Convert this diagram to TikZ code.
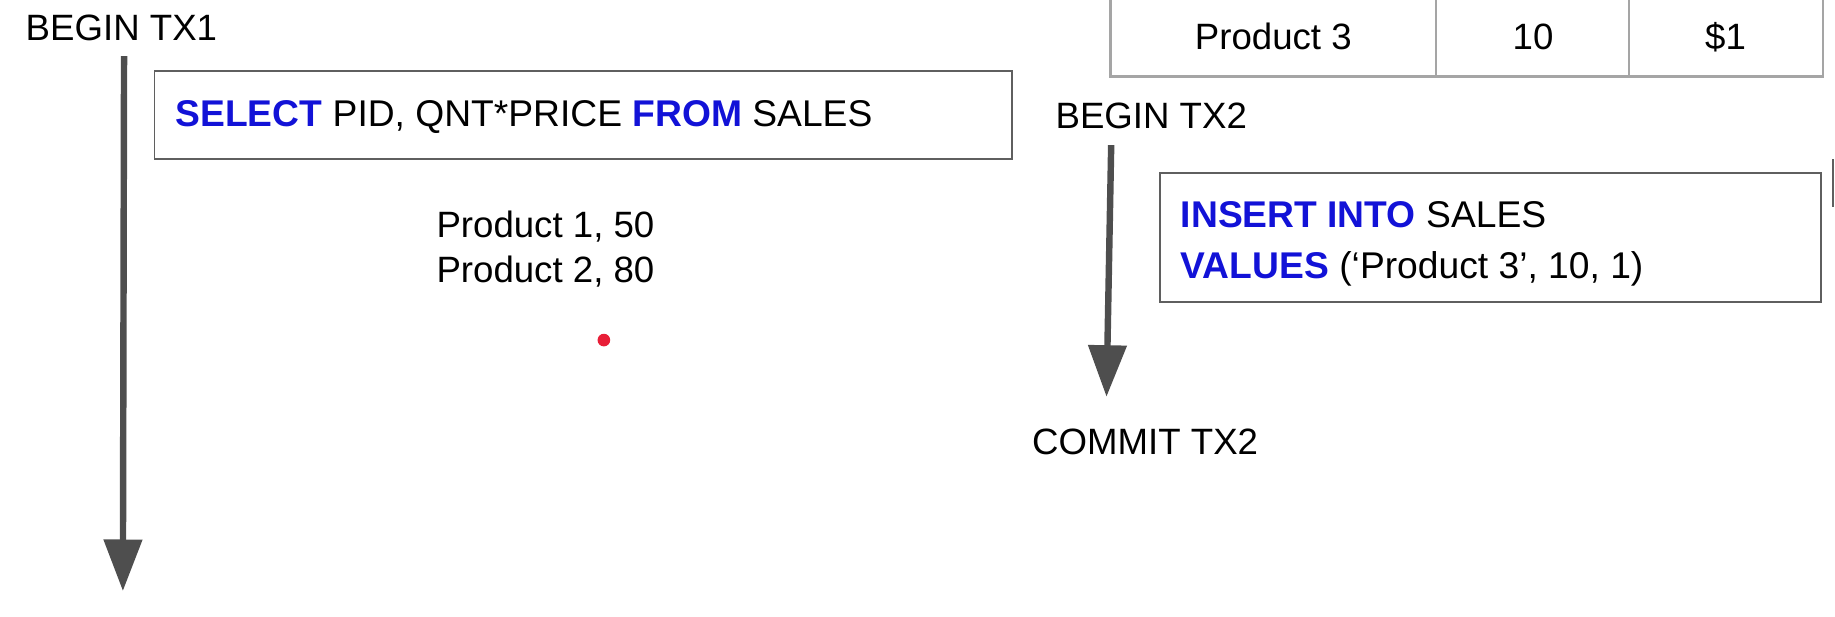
\documentclass[tikz,border=0pt]{standalone}
\usepackage{fontspec}
\setmainfont{Liberation Sans}
\usetikzlibrary{arrows.meta}
\definecolor{kw}{RGB}{18,18,215}
\definecolor{arrowgray}{RGB}{78,78,78}
\definecolor{boxgray}{RGB}{95,95,95}
\definecolor{tablegray}{RGB}{165,165,165}
\definecolor{dotred}{RGB}{232,30,55}
\newcommand{\kwd}[1]{\textcolor{kw}{\textbf{#1}}}
\begin{document}
\begin{tikzpicture}[x=1pt,y=-1pt,
  every node/.style={font=\fontsize{31.3}{37}\selectfont, inner sep=0pt, outer sep=0pt},
  lbl/.style={anchor=base west},
  sqltxt/.style={anchor=base west, font=\fontsize{31.8}{37}\selectfont},
  celltxt/.style={anchor=base},
  sqlbox/.style={draw=boxgray, line width=1.6pt, anchor=north west},
  cellbox/.style={draw=tablegray, line width=2pt, anchor=south west, minimum height=80pt},
  timeline/.style={draw=arrowgray, line width=5.5pt, -{Triangle[width=32pt,length=44pt]}}]
\useasboundingbox (0,0) rectangle (1568,526.4);

% table (cut at top)
\node[cellbox, minimum width=278pt] (c1) at (949,65.5) {};
\node[cellbox, minimum width=165pt] (c2) at (1227,65.5) {};
\node[cellbox, minimum width=166pt] (c3) at (1392,65.5) {};
\node[celltxt] (t1) at (1088,42) {Product 3};
\node[celltxt] (t2) at (1310,42) {10};
\node[celltxt] (t3) at (1474.5,42) {\$1};

% TX1
\node[lbl] (b1) at (22,35) {BEGIN TX1};
\coordinate (t1top) at (106,48);
\coordinate (t1end) at (105,505);
\draw[timeline] (t1top) -- (t1end);

\node[sqlbox, minimum width=733pt, minimum height=75pt] (sel) at (132,61) {};
\node[sqltxt] (selt) at (150,108) {\kwd{SELECT} PID, QNT*PRICE \kwd{FROM} SALES};

\node[lbl] (r1) at (373,203) {Product 1, 50};
\node[lbl] (r2) at (373,241) {Product 2, 80};

\fill[dotred] (516,290.6) circle (5.4pt);

% TX2
\node[lbl] (b2) at (902,110) {BEGIN TX2};
\coordinate (t2top) at (949.5,124);
\coordinate (t2end) at (945.5,339);
\draw[timeline] (t2top) -- (t2end);

\node[sqlbox, minimum width=565pt, minimum height=110pt] (ins) at (991,148) {};
\node[sqltxt] (ins1) at (1009,194) {\kwd{INSERT INTO} SALES};
\node[sqltxt] (ins2) at (1009,238) {\kwd{VALUES} (‘Product 3’, 10, 1)};

\node[lbl] (c2t) at (882,388) {COMMIT TX2};

% cut-off mark at right edge
\draw[boxgray, line width=2pt] (1566.5,136) -- (1566.5,177);
\end{tikzpicture}
\end{document}
